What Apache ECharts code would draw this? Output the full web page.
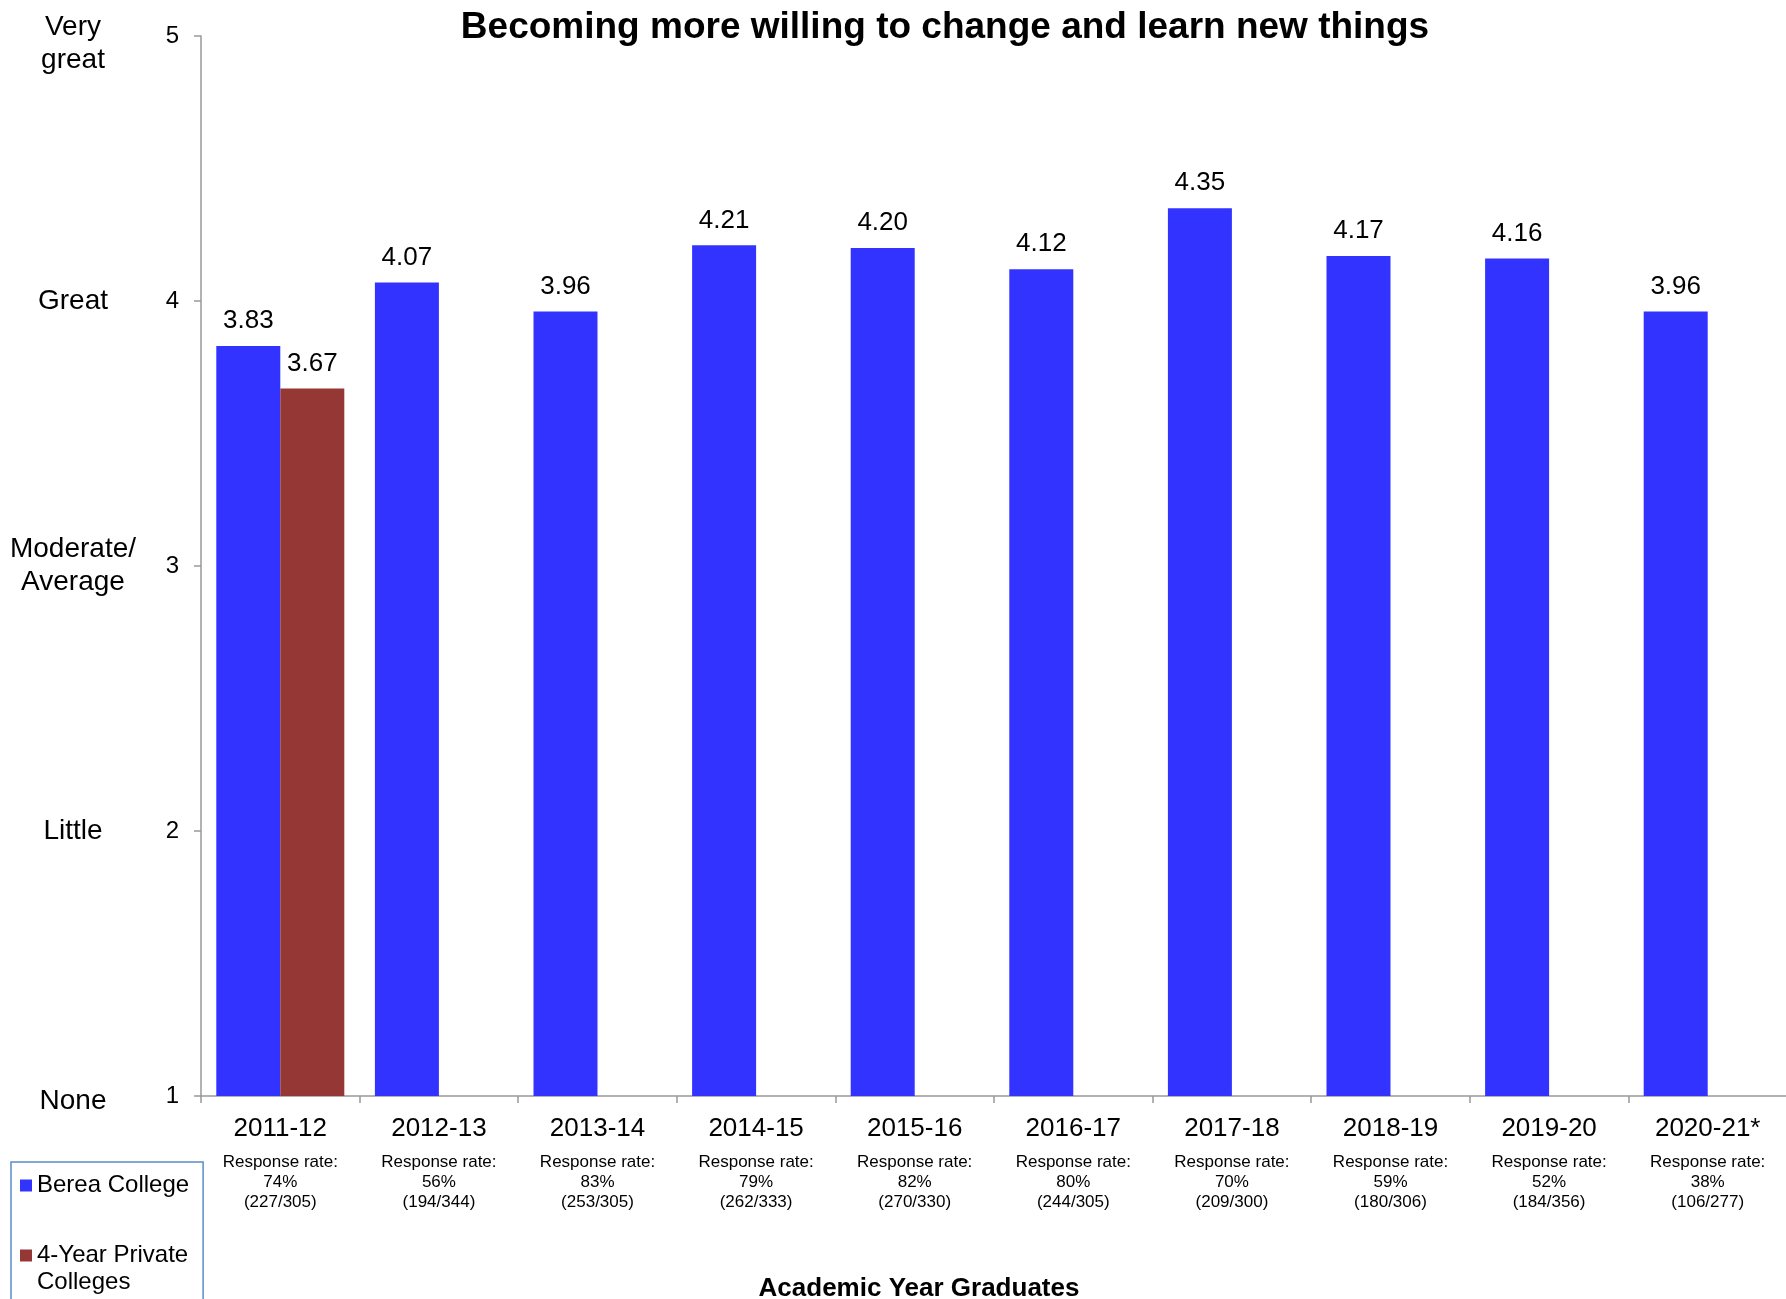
<!DOCTYPE html>
<html>
<head>
<meta charset="utf-8">
<script src="https://cdn.jsdelivr.net/npm/echarts@6/dist/echarts.min.js"></script>
<style>
html,body{margin:0;padding:0;background:#fff;}
#chart{width:1786px;height:1299px;}
</style>
</head>
<body>
<div id="chart"></div>
<script>
const categories = ['2011-12','2012-13','2013-14','2014-15','2015-16','2016-17','2017-18','2018-19','2019-20','2020-21*'];
const bereaValues = [3.83,4.07,3.96,4.21,4.20,4.12,4.35,4.17,4.16,3.96];
const privateValues = [3.67,null,null,null,null,null,null,null,null,null];
const responseRates = ['74%','56%','83%','79%','82%','80%','70%','59%','52%','38%'];
const responseCounts = ['227/305','194/344','253/305','262/333','270/330','244/305','209/300','180/306','184/356','106/277'];
const scaleNames = {1:'None',2:'Little',3:'Moderate/\nAverage',4:'Great',5:'Very\ngreat'};
const seriesNames = ['Berea College','4-Year Private Colleges'];

const FONT = '"Liberation Sans", Arial, Helvetica, sans-serif';

function scaleLabel(v) {
  const name = scaleNames[v];
  if (!name) return '';
  const lines = name.split('\n').map(s => '{n|' + s + '}');
  if (v === 5) return '{s5| }\n' + lines.join('\n');
  if (v === 1) return '{s1| }\n' + lines.join('\n');
  return lines.join('\n');
}

const chart = echarts.init(document.getElementById('chart'));
chart.setOption({
  animation: false,
  textStyle: {fontFamily: FONT, color: '#000'},
  title: {
    text: 'Becoming more willing to change and learn new things',
    left: 940, top: 4, textAlign: 'center',
    textStyle: {fontFamily: FONT, fontSize: 37, fontWeight: 'bold', color: '#000'}
  },
  grid: {left: 201, right: -1, top: 36, bottom: 203, containLabel: false, outerBoundsMode: 'none'},
  legend: {
    orient: 'vertical', left: 11, top: 1162, height: 300,
    padding: [10, 14, 60, 9],
    itemGap: 16, itemWidth: 12, itemHeight: 12,
    borderColor: '#5B8CC8', borderWidth: 1.5,
    icon: 'rect',
    formatter: n => n === '4-Year Private Colleges' ? ' \n4-Year Private\nColleges' : n,
    textStyle: {fontFamily: FONT, fontSize: 24, lineHeight: 27, color: '#000'},
    data: seriesNames
  },
  xAxis: {
    type: 'category', data: categories,
    axisLine: {lineStyle: {color: '#999', width: 1.5}},
    axisTick: {show: true, length: 7, lineStyle: {color: '#999', width: 1.5}},
    axisLabel: {
      margin: 10, interval: 0,
      formatter: (v, i) => '{y|' + v + '}\n{r|Response rate:}\n{r|' + responseRates[i] + '}\n{r|(' + responseCounts[i] + ')}',
      rich: {
        y: {fontFamily: FONT, fontSize: 26, lineHeight: 46, color: '#000'},
        r: {fontFamily: FONT, fontSize: 17, lineHeight: 20, color: '#000'}
      }
    },
    name: 'Academic Year Graduates',
    nameLocation: 'middle', nameGap: 180,
    nameTextStyle: {fontFamily: FONT, fontSize: 26, fontWeight: 'bold', color: '#000', padding: [0, 150, 0, 0]}
  },
  yAxis: [{
    type: 'value', min: 1, max: 5, interval: 1,
    splitLine: {show: false},
    axisLine: {show: true, lineStyle: {color: '#999', width: 1.5}},
    axisTick: {show: true, length: 7, lineStyle: {color: '#999', width: 1.5}},
    axisLabel: {margin: 22, fontFamily: FONT, fontSize: 24, color: '#000'}
  }, {
    type: 'value', min: 1, max: 5, interval: 1, position: 'left',
    splitLine: {show: false}, axisLine: {show: false}, axisTick: {show: false},
    axisLabel: {
      margin: 128, align: 'center', color: '#000',
      formatter: scaleLabel,
      rich: {
        n: {fontFamily: FONT, fontSize: 28, lineHeight: 33, color: '#000', align: 'center'},
        s5: {fontSize: 10, lineHeight: 16},
        s1: {fontSize: 8, lineHeight: 10}
      }
    }
  }],
  series: [{
    name: seriesNames[0], type: 'bar', data: bereaValues,
    barWidth: 64, barGap: '0%',
    itemStyle: {color: '#3333FF'},
    label: {show: true, position: 'top', distance: 12, fontFamily: FONT, fontSize: 26, color: '#000',
      formatter: p => p.value.toFixed(2)}
  }, {
    name: seriesNames[1], type: 'bar', data: privateValues,
    barWidth: 64, barGap: '0%',
    itemStyle: {color: '#953735'},
    label: {show: true, position: 'top', distance: 12, fontFamily: FONT, fontSize: 26, color: '#000',
      formatter: p => p.value == null ? '' : p.value.toFixed(2)}
  }]
});
</script>
</body>
</html>
